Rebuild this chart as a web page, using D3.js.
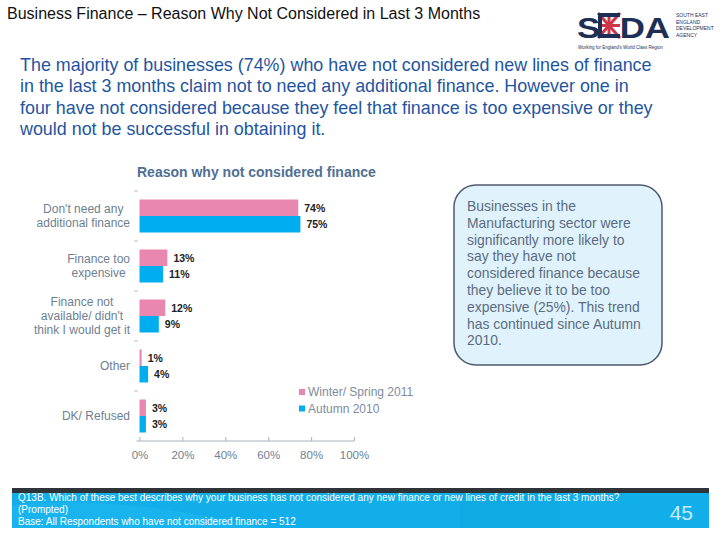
<!DOCTYPE html>
<html><head><meta charset="utf-8">
<script src="https://cdn.jsdelivr.net/npm/d3@7"></script>
<style>
html,body{margin:0;padding:0;background:#fff;}
svg{display:block;font-family:"Liberation Sans",Arial,sans-serif;}
</style></head>
<body>
<svg id="c" width="720" height="540"></svg>
<script>
// ---- data ----
const categories = ["Don't need any additional finance","Finance too expensive","Finance not available/ didn't think I would get it","Other","DK/ Refused"];
const categoryLines = [["Don't need any","additional finance"],["Finance too","expensive"],["Finance not","available/ didn't","think I would get it"],["Other"],["DK/ Refused"]];
const seriesNames = ["Winter/ Spring 2011","Autumn 2010"];
const winterSpring2011 = [74,13,12,1,3];
const autumn2010 = [75,11,9,4,3];
const xTicks = [0,20,40,60,80,100];
const pageTitle = "Business Finance \u2013 Reason Why Not Considered in Last 3 Months";
const introLines = [
 "The majority of businesses (74%) who have not considered new lines of finance",
 "in the last 3 months claim not to need any additional finance. However one in",
 "four have not considered because they feel that finance is too expensive or they",
 "would not be successful in obtaining it."];
const chartTitle = "Reason why not considered finance";
const calloutLines = ["Businesses in the","Manufacturing sector were","significantly more likely to","say they have not","considered finance because","they believe it to be too","expensive (25%). This trend","has continued since Autumn","2010."];
const footerLines = ["Q13B. Which of these best describes why your business has not considered any new finance or new lines of credit in the last 3 months?","(Prompted)","Base: All Respondents  who have not considered finance = 512"];
const pageNumber = "45";

const colors = ["#e987b1","#00aeef"];
const svg = d3.select("#c");

// page title
svg.append("text").attr("x",7).attr("y",19).attr("font-size",16).attr("fill","#111").text(pageTitle);

// logo
const logo = svg.append("g");
logo.append("text").attr("x",577).attr("y",38).attr("font-size",30).attr("font-weight","bold")
  .attr("fill","#1d2f55").attr("textLength",93).attr("lengthAdjust","spacingAndGlyphs").text("S\u00a0\u00a0DA");
const fx=598, fy=13, fw=22, fh=25;
logo.append("rect").attr("x",fx).attr("y",fy).attr("width",fw).attr("height",fh).attr("fill","#fff");
[[fx,fy,fx+fw,fy+fh],[fx+fw,fy,fx,fy+fh],[fx+fw/2,fy,fx+fw/2,fy+fh],[fx,fy+fh/2,fx+fw,fy+fh/2]].forEach(l=>{
  logo.append("line").attr("x1",l[0]).attr("y1",l[1]).attr("x2",l[2]).attr("y2",l[3]).attr("stroke","#d0344a").attr("stroke-width",3);
});
logo.append("path").attr("d",`M${fx},${fy} L${fx+fw},${fy} L${fx+fw},${fy+4} L${fx+4},${fy+4} L${fx+4},${fy+fh-4} L${fx+fw},${fy+fh-4} L${fx+fw},${fy+fh} L${fx},${fy+fh} Z`).attr("fill","#1d2f55");
["SOUTH EAST","ENGLAND","DEVELOPMENT","AGENCY"].forEach((t,i)=>{
  logo.append("text").attr("x",676).attr("y",17+i*6.5).attr("font-size",5).attr("fill","#1d2f55").text(t);
});
logo.append("text").attr("x",578).attr("y",49).attr("font-size",4.5).attr("fill","#1d2f55").text("Working for England's World Class Region");

// intro paragraph
svg.append("g").selectAll("text").data(introLines).join("text")
  .attr("x",20).attr("y",(d,i)=>71+i*21.3).attr("font-size",17.9).attr("fill","#1f55a0").text(d=>d);

// chart
const x = d3.scaleLinear().domain([0,100]).range([139.5,354]);
const y = d3.scaleBand().domain(categories).range([191,441]);
const ys = d3.scaleBand().domain(seriesNames).range([0,y.bandwidth()]).paddingInner(0).paddingOuter(0.515);

svg.append("text").attr("x",137).attr("y",177).attr("font-size",14).attr("font-weight","bold").attr("fill","#4f6f95").text(chartTitle);

const series = [winterSpring2011, autumn2010];
const g = svg.append("g");
series.forEach((vals,si)=>{
  g.selectAll(null).data(categories).join("rect")
    .attr("x",x(0)).attr("y",c=>y(c)+ys(seriesNames[si]))
    .attr("width",(c,i)=>x(vals[i])-x(0)).attr("height",ys.bandwidth())
    .attr("fill",colors[si]);
  g.selectAll(null).data(categories).join("text")
    .attr("x",(c,i)=>x(vals[i])+6).attr("y",c=>y(c)+ys(seriesNames[si])+ys.bandwidth()/2+4)
    .attr("font-size",10.5).attr("font-weight","bold").attr("fill","#222")
    .text((c,i)=>vals[i]+"%");
});

// left separator ticks
g.selectAll(null).data(categories).join("line")
  .attr("x1",134).attr("x2",138).attr("y1",c=>y(c)).attr("y2",c=>y(c))
  .attr("stroke","#b8c0c8").attr("stroke-width",1);

// category labels
categories.forEach((c,i)=>{
  const lines = categoryLines[i];
  const lh = 14;
  const cy = y(c)+y.bandwidth()/2;
  const tg = svg.append("g");
  const ts = tg.selectAll("text").data(lines).join("text")
    .attr("y",(d,j)=>cy+(j-(lines.length-1)/2)*lh+4)
    .attr("font-size",12).attr("fill","#6e7f92").attr("text-anchor","middle").text(d=>d);
  let maxW=0; ts.each(function(){maxW=Math.max(maxW,this.getComputedTextLength());});
  ts.attr("x",130-maxW/2);
});

// x axis
const ax = svg.append("g").attr("transform","translate(0,441)")
  .call(d3.axisBottom(x).tickValues(xTicks).tickFormat(d=>d+"%").tickSizeInner(-4).tickSizeOuter(0).tickPadding(10));
ax.select(".domain").attr("stroke","#a8b2bd").attr("d",`M${x(0)-3},0H${x(100)}`);
ax.selectAll(".tick line").attr("stroke","#a8b2bd");
ax.selectAll(".tick text").attr("font-size",11.5).attr("fill","#6e7f92").attr("font-family","Liberation Sans, Arial, sans-serif");

// legend
const lg = svg.append("g");
seriesNames.forEach((s,i)=>{
  lg.append("rect").attr("x",299).attr("y",389+i*16.5).attr("width",6).attr("height",6).attr("fill",colors[i]);
  lg.append("text").attr("x",308).attr("y",396+i*16.5).attr("font-size",12).attr("fill","#7d8c9c").text(s);
});

// callout
svg.append("rect").attr("x",454).attr("y",185).attr("width",208).attr("height",180).attr("rx",22).attr("ry",22)
  .attr("fill","#e0f3fc").attr("stroke","#4d5a6e").attr("stroke-width",1.5);
svg.append("g").selectAll("text").data(calloutLines).join("text")
  .attr("x",467).attr("y",(d,i)=>211+i*16.8).attr("font-size",13.9).attr("fill","#5b6b82").text(d=>d);

// footer
svg.append("rect").attr("x",12).attr("y",488).attr("width",697).attr("height",6).attr("fill","#2f3438");
svg.append("rect").attr("x",12).attr("y",493).attr("width",697).attr("height",35).attr("fill","#12aee9");
svg.append("path").attr("d","M12,528 L12,505 Q120,494 260,528 Z").attr("fill","#1db6ef").attr("opacity",0.7);
svg.append("rect").attr("x",460).attr("y",493).attr("width",100).attr("height",35).attr("fill","#0ea6df").attr("opacity",0.6);
svg.append("g").selectAll("text").data(footerLines).join("text")
  .attr("x",18).attr("y",(d,i)=>501+i*12).attr("font-size",10).attr("fill","#fff").text(d=>d);
svg.append("text").attr("x",693).attr("y",520).attr("text-anchor","end").attr("font-size",21).attr("fill","#c5ecfb").text(pageNumber);
</script>
</body></html>
